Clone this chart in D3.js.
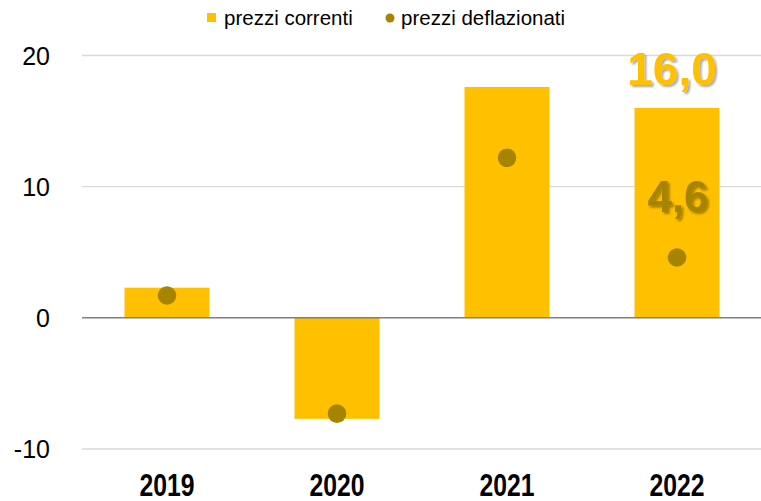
<!DOCTYPE html>
<html>
<head>
<meta charset="utf-8">
<script src="https://cdn.jsdelivr.net/npm/d3@7"></script>
<style>
  body { margin: 0; background: #fff; }
  svg { display: block; font-family: Arial, "Liberation Sans", sans-serif; }
</style>
</head>
<body>
<svg id="chart" width="761" height="501"></svg>
<script>
// data
const years = ["2019", "2020", "2021", "2022"];
const correnti = [2.3, -7.7, 17.6, 16.0];
const deflazionati = [1.7, -7.3, 12.2, 4.6];
const yTicks = [-10, 0, 10, 20];
const seriesNames = ["prezzi correnti", "prezzi deflazionati"];

const barColor = "#FFC000", dotColor = "#A68400";

const svg = d3.select("#chart");
const left = 82, right = 761;

// scales
const x = d3.scaleBand().domain(years).range([left, right + 1])
  .paddingInner(0.5).paddingOuter(0.25);
const y = d3.scaleLinear().domain([-10, 20]).range([449, 55.5]);

// shadow for the data labels
const defs = svg.append("defs");
defs.append("filter").attr("id", "shadow")
  .attr("x", "-20%").attr("y", "-20%").attr("width", "140%").attr("height", "140%")
  .append("feDropShadow")
  .attr("dx", 2).attr("dy", 2).attr("stdDeviation", 1.2)
  .attr("flood-color", "#000").attr("flood-opacity", 0.35);

// grid lines
svg.append("g").selectAll("line")
  .data(yTicks.filter(d => d !== 0))
  .join("line")
  .attr("x1", left).attr("x2", right)
  .attr("y1", d => y(d)).attr("y2", d => y(d))
  .attr("stroke", "#d9d9d9").attr("stroke-width", 1.3);

// y axis labels
const yAxis = svg.append("g")
  .attr("transform", "translate(" + 50 + ",0)")
  .call(d3.axisLeft(y).tickValues(yTicks).tickSize(0).tickPadding(0).tickFormat(d => String(d)));
yAxis.select(".domain").remove();
yAxis.selectAll("text")
  .attr("font-size", 25).attr("font-family", "Arial, 'Liberation Sans', sans-serif")
  .attr("fill", "#000").attr("dy", "0.35em");

// bars
svg.append("g").selectAll("rect")
  .data(years)
  .join("rect")
  .attr("x", d => x(d))
  .attr("width", x.bandwidth())
  .attr("y", (d, i) => y(Math.max(0, correnti[i])))
  .attr("height", (d, i) => Math.abs(y(correnti[i]) - y(0)))
  .attr("fill", barColor);

// zero line
svg.append("line")
  .attr("x1", left).attr("x2", right)
  .attr("y1", y(0)).attr("y2", y(0))
  .attr("stroke", "#7f7f7f").attr("stroke-width", 1.5);

// dots
svg.append("g").selectAll("circle")
  .data(years)
  .join("circle")
  .attr("cx", d => x(d) + x.bandwidth() / 2)
  .attr("cy", (d, i) => y(deflazionati[i]))
  .attr("r", 9.3)
  .attr("fill", dotColor);

// x axis labels (condensed bold)
const xAxis = svg.append("g")
  .attr("transform", "translate(0," + 468 + ")")
  .call(d3.axisBottom(x).tickSize(0).tickPadding(0));
xAxis.select(".domain").remove();
xAxis.selectAll("text")
  .attr("font-size", 31).attr("font-weight", "bold")
  .attr("fill", "#000").attr("y", 28).attr("dy", 0)
  .attr("textLength", 55).attr("lengthAdjust", "spacingAndGlyphs");

// labels on last year
const last = years.length - 1;
const fmt = v => d3.format(".1f")(v).replace(".", ",");
const cx = x(years[last]) + x.bandwidth() / 2;
svg.append("text")
  .attr("x", cx - 5).attr("y", y(correnti[last]) - 23)
  .attr("text-anchor", "middle")
  .attr("font-size", 46).attr("font-weight", "bold")
  .attr("fill", barColor).attr("filter", "url(#shadow)")
  .text(fmt(correnti[last]));
svg.append("text")
  .attr("x", cx + 1).attr("y", y(deflazionati[last]) - 45)
  .attr("text-anchor", "middle")
  .attr("font-size", 44).attr("font-weight", "bold")
  .attr("fill", dotColor).attr("filter", "url(#shadow)")
  .text(fmt(deflazionati[last]));

// legend
const legend = svg.append("g");
legend.append("rect")
  .attr("x", 207).attr("y", 13).attr("width", 9).attr("height", 9)
  .attr("fill", barColor);
legend.append("circle")
  .attr("cx", 390).attr("cy", 18).attr("r", 4.5)
  .attr("fill", dotColor);
legend.selectAll("text")
  .data(seriesNames)
  .join("text")
  .attr("x", (d, i) => i === 0 ? 224 : 401)
  .attr("y", 25)
  .attr("font-size", 20.5)
  .attr("fill", "#000")
  .text(d => d);
</script>
</body>
</html>
